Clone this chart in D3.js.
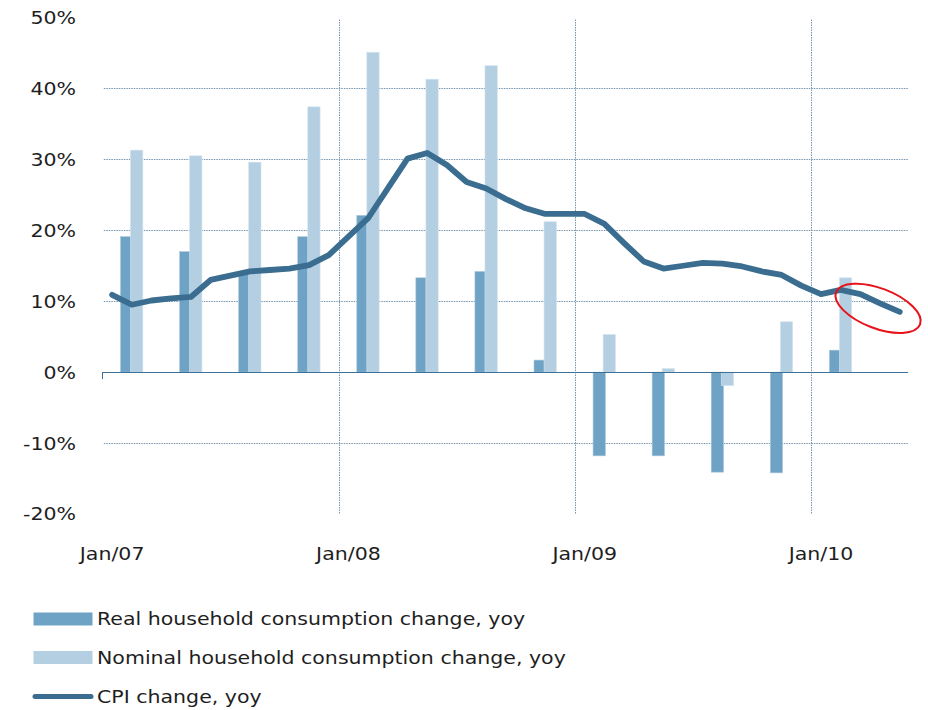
<!DOCTYPE html>
<html>
<head>
<meta charset="utf-8">
<script src="https://cdn.jsdelivr.net/npm/d3@7"></script>
<style>
  html, body { margin: 0; padding: 0; background: #fff; }
  svg { display: block; }
  text { font-family: "DejaVu Sans", Verdana, sans-serif; fill: #1e1e1e; }
</style>
</head>
<body>
<svg id="chart" width="928" height="710"></svg>
<script>
// ---------- data ----------
const months = [
  "2007-01","2007-02","2007-03","2007-04","2007-05","2007-06","2007-07","2007-08","2007-09","2007-10","2007-11","2007-12",
  "2008-01","2008-02","2008-03","2008-04","2008-05","2008-06","2008-07","2008-08","2008-09","2008-10","2008-11","2008-12",
  "2009-01","2009-02","2009-03","2009-04","2009-05","2009-06","2009-07","2009-08","2009-09","2009-10","2009-11","2009-12",
  "2010-01","2010-02","2010-03","2010-04","2010-05"
];
const cpi = [
  10.9, 9.5, 10.1, 10.4, 10.6, 13.0, 13.6, 14.2, 14.4, 14.6, 15.1, 16.5,
  19.1, 21.7, 25.9, 30.1, 30.9, 29.2, 26.8, 25.9, 24.4, 23.1, 22.3, 22.3,
  22.3, 20.9, 18.2, 15.6, 14.6, 15.0, 15.4, 15.3, 14.9, 14.2, 13.7, 12.2,
  11.0, 11.6, 11.0, 9.7, 8.5
];
// quarterly bars, plotted at the middle month of each quarter
const quarters = ["2007-02","2007-05","2007-08","2007-11","2008-02","2008-05","2008-08","2008-11",
                  "2009-02","2009-05","2009-08","2009-11","2010-02"];
const realCons    = [19.1, 17.0, 13.9, 19.1, 22.1, 13.3, 14.2, 1.7, -11.8, -11.8, -14.1, -14.2, 3.1];
const nominalCons = [31.3, 30.5, 29.6, 37.4, 45.1, 41.3, 43.2, 21.2, 5.3, 0.5, -1.9, 7.1, 13.3];
const yTicks = [-20, -10, 0, 10, 20, 30, 40, 50];
const xLabels = {"2007-01": "Jan/07", "2008-01": "Jan/08", "2009-01": "Jan/09", "2010-01": "Jan/10"};
const legendItems = [
  {label: "Real household consumption change, yoy", type: "bar", color: "#6fa3c5"},
  {label: "Nominal household consumption change, yoy", type: "bar", color: "#b4cfe2"},
  {label: "CPI change, yoy", type: "line", color: "#3a6d8f"}
];

// ---------- layout ----------
const C = {real: "#6fa3c5", nominal: "#b4cfe2", cpi: "#3a6d8f", grid: "#7696b0", axis: "#3d7096"};
const svg = d3.select("#chart");
const pLeft = 102.3, pRight = 909.6, pTop = 17.5, pBottom = 514;
const SX = 1.14; // horizontal text stretch of the original rendering

const x = d3.scaleBand().domain(months).range([pLeft, pRight]).paddingInner(0).paddingOuter(0);
const bw = x.bandwidth();
const cx = m => x(m) + bw / 2;
const y = d3.scaleLinear().domain([-20, 50]).range([pBottom, pTop]);

// horizontal gridlines
svg.append("g").selectAll("line")
  .data(yTicks.filter(t => t !== 0 && t !== -20 && t !== 50))
  .join("line")
  .attr("x1", pLeft + 1.5).attr("x2", pRight - 1.5)
  .attr("y1", d => Math.round(y(d)) + 0.5).attr("y2", d => Math.round(y(d)) + 0.5)
  .attr("stroke", C.grid).attr("stroke-width", 1).attr("stroke-dasharray", "1.5,1");

// vertical gridlines at January boundaries (except first)
const janMonths = months.filter(m => m.endsWith("-01"));
svg.append("g").selectAll("line")
  .data(janMonths.slice(1))
  .join("line")
  .attr("x1", d => Math.round(x(d)) + 0.5).attr("x2", d => Math.round(x(d)) + 0.5)
  .attr("y1", pTop + 2).attr("y2", pBottom)
  .attr("stroke", C.grid).attr("stroke-width", 1).attr("stroke-dasharray", "1.5,1");

// y axis labels
svg.append("g").selectAll("text")
  .data(yTicks)
  .join("text")
  .attr("transform", d => `translate(76,${y(d)}) scale(${SX},1)`)
  .attr("dy", "0.36em")
  .attr("text-anchor", "end").attr("font-size", 18)
  .text(d => d + "%");

// x axis labels
svg.append("g").selectAll("text")
  .data(janMonths)
  .join("text")
  .attr("transform", d => `translate(${cx(d)},560) scale(${SX},1)`)
  .attr("text-anchor", "middle").attr("font-size", 18)
  .text(d => xLabels[d]);

// bars
const barW = bw * 0.625;
const barG = svg.append("g");
barG.selectAll("rect.real")
  .data(quarters.map((q, i) => ({q, v: realCons[i]})))
  .join("rect").attr("class", "real")
  .attr("x", d => cx(d.q) - bw * 0.575)
  .attr("width", barW)
  .attr("y", d => y(Math.max(0, d.v)))
  .attr("height", d => Math.abs(y(d.v) - y(0)))
  .attr("fill", C.real).attr("stroke", "#a9c8dc").attr("stroke-width", 0.6);
barG.selectAll("rect.nominal")
  .data(quarters.map((q, i) => ({q, v: nominalCons[i]})))
  .join("rect").attr("class", "nominal")
  .attr("x", d => cx(d.q) - bw * 0.065)
  .attr("width", barW)
  .attr("y", d => y(Math.max(0, d.v)))
  .attr("height", d => Math.abs(y(d.v) - y(0)))
  .attr("fill", C.nominal).attr("stroke", "#d4e3ee").attr("stroke-width", 0.6);

// zero axis
svg.append("line")
  .attr("x1", pLeft).attr("x2", pRight - 1.5)
  .attr("y1", Math.round(y(0)) + 0.5).attr("y2", Math.round(y(0)) + 0.5)
  .attr("stroke", C.axis).attr("stroke-width", 1);
svg.append("line")
  .attr("x1", Math.round(pLeft) + 0.5).attr("x2", Math.round(pLeft) + 0.5)
  .attr("y1", y(0)).attr("y2", y(0) + 7)
  .attr("stroke", C.axis).attr("stroke-width", 1);

// CPI line
const line = d3.line().x((d, i) => cx(months[i])).y(d => y(d));
svg.append("path")
  .datum(cpi)
  .attr("d", line)
  .attr("fill", "none").attr("stroke", C.cpi).attr("stroke-width", 5.8)
  .attr("stroke-linejoin", "round").attr("stroke-linecap", "round");

// red annotation ellipse around the latest CPI readings
const annM = "2010-04";
const annX = cx(annM) - 2, annY = y(cpi[months.indexOf(annM)]) + 5;
svg.append("ellipse")
  .attr("cx", 0).attr("cy", 0).attr("rx", 45).attr("ry", 20)
  .attr("transform", `translate(${annX},${annY}) rotate(21)`)
  .attr("fill", "none").attr("stroke", "#e8121a").attr("stroke-width", 2);

// legend
const lg = svg.append("g");
const rowY = [619, 657.5, 696.5];
legendItems.forEach((it, i) => {
  if (it.type === "bar") {
    lg.append("rect").attr("x", 33.5).attr("y", rowY[i] - 6.5).attr("width", 59).attr("height", 13)
      .attr("fill", it.color);
  } else {
    lg.append("line").attr("x1", 35).attr("x2", 91).attr("y1", rowY[i]).attr("y2", rowY[i])
      .attr("stroke", it.color).attr("stroke-width", 5).attr("stroke-linecap", "round");
  }
  lg.append("text")
    .attr("transform", `translate(97,${rowY[i]}) scale(${SX},1)`)
    .attr("dy", "0.36em")
    .attr("font-size", 18).text(it.label);
});
</script>
</body>
</html>
